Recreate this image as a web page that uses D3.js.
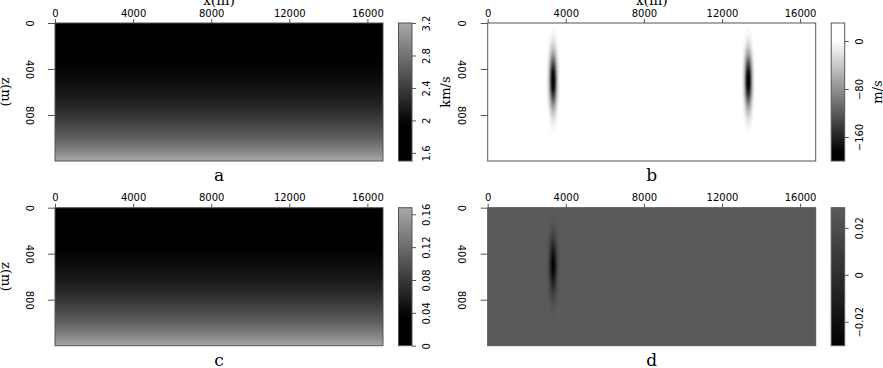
<!DOCTYPE html>
<html><head><meta charset="utf-8">
<script src="https://cdn.jsdelivr.net/npm/d3@7"></script>
<style>body{margin:0;background:#fff}svg{display:block}</style>
</head><body><svg id="chart" width="883" height="368"></svg>
<script>
// ---------------- data ----------------
const depths   = [0,100,200,300,400,500,600,700,800,900,1000,1100,1200];          // z (m)
const velocity = [1.50,1.62,1.74,1.86,1.98,2.04,2.11,2.21,2.34,2.49,2.66,2.90,3.20]; // panel a, km/s
const epsilon  = [0,0.008,0.017,0.027,0.038,0.045,0.052,0.063,0.077,0.093,0.111,0.136,0.166]; // panel c
const anomalyX = [3350, 13350];      // m
const anomalyZ = [500, 500];         // m
const anomalyAmpB = [-200, -200];    // m/s, panel b
const anomalyAmpD = [-0.03];         // panel d (only first anomaly)
const anomalySigmaX = 128;           // m
const anomalySigmaZ = 157;           // m
const profileR   = [0, 0.5, 1, 1.5, 2, 2.5, 3];          // radius in sigma units
const profileAmp = [1, 0.88, 0.61, 0.32, 0.14, 0.04, 0.01]; // relative amplitude
const xTicks = [0,4000,8000,12000,16000];
const zTicks = [0,400,800];
const xDomain = [0,16800];
const zDomain = [0,1200];
const cbDomainA = [1.5,3.2],   cbTicksA = [1.6,2,2.4,2.8,3.2], cbLabelsA = ["1.6","2","2.4","2.8","3.2"];
const cbDomainB = [-200,30],   cbTicksB = [0,-80,-160],       cbLabelsB = ["0","\u221280","\u2212160"];
const cbDomainC = [0,0.168],   cbTicksC = [0,0.04,0.08,0.12,0.16], cbLabelsC = ["0","0.04","0.08","0.12","0.16"];
const cbDomainD = [-0.0302,0.0286], cbTicksD = [0.02,0,-0.02], cbLabelsD = ["0.02","0","\u22120.02"];
const panelLabels = ["a","b","c","d"];

// ---------------- layout ----------------
const svg = d3.select("#chart");
const defs = svg.append("defs");
const colLeft = [55, 487.7], rowTop = [23, 207.7];
const W = 328, H = 138;
const CBOFF = 15.5, CBW = 13.5;
const tickFont = "'DejaVu Sans', sans-serif";
const labelFont = "'DejaVu Serif', serif";
const borderCol = "#555";

const colA = d3.scaleLinear().domain([1.95,3.2]).range(["#000","#a8a8a8"]).clamp(true);
const colB = d3.scaleLinear().domain([-185,0]).range(["#000","#fff"]).clamp(true);
const colC = d3.scaleLinear().domain([0.035,0.168]).range(["#000","#a8a8a8"]).clamp(true);
const colD = d3.scaleLinear().domain([-0.03,0]).range(["#000","#5a5a5a"]).clamp(true);
const colDbar = d3.scaleLinear().domain(cbDomainD).range(["#000","#5a5a5a"]);

const panels = [
  {id:"a", c:0, r:0, color:colA, cbColor:colA, cbDomain:cbDomainA, cbTicks:cbTicksA, cbLabels:cbLabelsA, profile:velocity, unit:"km/s", unitX:445, xlabel:true, zlabel:true},
  {id:"b", c:1, r:0, color:colB, cbColor:colB, cbDomain:cbDomainB, cbTicks:cbTicksB, cbLabels:cbLabelsB, anomalies:anomalyAmpB, bg:0, unit:"m/s", unitX:877, xlabel:true, zlabel:false},
  {id:"c", c:0, r:1, color:colC, cbColor:colC, cbDomain:cbDomainC, cbTicks:cbTicksC, cbLabels:cbLabelsC, profile:epsilon, xlabel:false, zlabel:true},
  {id:"d", c:1, r:1, color:colD, cbColor:colDbar, cbDomain:cbDomainD, cbTicks:cbTicksD, cbLabels:cbLabelsD, anomalies:anomalyAmpD, bg:0, xlabel:false, zlabel:false}
];

panels.forEach((p, i) => {
  const L = colLeft[p.c], T = rowTop[p.r];
  const x = d3.scaleLinear().domain(xDomain).range([L, L+W]);
  const z = d3.scaleLinear().domain(zDomain).range([T, T+H]);
  const g = svg.append("g");

  // image
  if (p.profile) {
    const gid = "grad_" + p.id;
    const lg = defs.append("linearGradient").attr("id", gid)
      .attr("gradientUnits","userSpaceOnUse")
      .attr("x1",0).attr("x2",0).attr("y1",z(zDomain[0])).attr("y2",z(zDomain[1]));
    depths.forEach((d,k) => lg.append("stop")
      .attr("offset", (z(d)-T)/H).attr("stop-color", p.color(p.profile[k])));
    g.append("rect").attr("x",x(xDomain[0])).attr("y",z(zDomain[0]))
      .attr("width",x(xDomain[1])-x(xDomain[0])).attr("height",z(zDomain[1])-z(zDomain[0]))
      .attr("fill","url(#"+gid+")");
  } else {
    g.append("rect").attr("x",x(xDomain[0])).attr("y",z(zDomain[0]))
      .attr("width",x(xDomain[1])-x(xDomain[0])).attr("height",z(zDomain[1])-z(zDomain[0]))
      .attr("fill", p.color(p.bg));
    p.anomalies.forEach((amp, k) => {
      const rid = "rad_" + p.id + k;
      const rg = defs.append("radialGradient").attr("id", rid);
      profileR.forEach((r, j) => rg.append("stop")
        .attr("offset", r/3).attr("stop-color", p.color(amp*profileAmp[j])));
      g.append("ellipse")
        .attr("cx", x(anomalyX[k])).attr("cy", z(anomalyZ[k]))
        .attr("rx", x(3*anomalySigmaX) - x(0)).attr("ry", z(3*anomalySigmaZ) - z(0))
        .attr("fill","url(#"+rid+")");
    });
  }
  // border
  g.append("rect").attr("x",L).attr("y",T).attr("width",W).attr("height",H)
    .attr("fill","none").attr("stroke",borderCol).attr("stroke-width",1);

  // top x axis
  const xa = g.append("g").attr("transform",`translate(0,${T})`)
    .call(d3.axisTop(x).tickValues(xTicks).tickSize(4).tickPadding(2.5).tickFormat(d3.format("d")));
  xa.select(".domain").remove();
  xa.selectAll("line").attr("stroke",borderCol);
  xa.selectAll("text").attr("font-family",tickFont).attr("font-size",10).attr("fill","#000");

  // left z axis
  const za = g.append("g").attr("transform",`translate(${L},0)`)
    .call(d3.axisLeft(z).tickValues(zTicks).tickSize(7).tickFormat(d3.format("d")));
  za.select(".domain").remove();
  za.selectAll("line").attr("stroke",borderCol);
  za.selectAll("text")
    .attr("x",null).attr("dy",null)
    .attr("text-anchor","middle").attr("dominant-baseline","central")
    .attr("transform", "translate(-26,0) rotate(90)")
    .attr("font-family",tickFont).attr("font-size",10).attr("fill","#000");

  // colorbar
  const cbx = L + W + CBOFF;
  const cy = d3.scaleLinear().domain(p.cbDomain).range([T+H, T]);
  const cid = "cb_" + p.id;
  const cg = defs.append("linearGradient").attr("id", cid)
    .attr("x1",0).attr("x2",0).attr("y1",1).attr("y2",0);
  d3.range(0, 1.0001, 0.02).forEach(t => {
    const v = p.cbDomain[0] + t*(p.cbDomain[1]-p.cbDomain[0]);
    cg.append("stop").attr("offset", t).attr("stop-color", p.cbColor(v));
  });
  g.append("rect").attr("x",cbx).attr("y",cy(p.cbDomain[1]))
    .attr("width",CBW).attr("height",cy(p.cbDomain[0])-cy(p.cbDomain[1]))
    .attr("fill","url(#"+cid+")").attr("stroke",borderCol).attr("stroke-width",1);
  const ca = g.append("g").attr("transform",`translate(${cbx+CBW},0)`)
    .call(d3.axisRight(cy).tickValues(p.cbTicks).tickSize(4).tickFormat((d,k)=>p.cbLabels[k]));
  ca.select(".domain").remove();
  ca.selectAll("line").attr("stroke",borderCol);
  ca.selectAll("text")
    .attr("x",null).attr("dy",null)
    .attr("text-anchor","middle").attr("dominant-baseline","central")
    .attr("transform","translate(14.5,0) rotate(-90)")
    .attr("font-family",tickFont).attr("font-size",10).attr("fill","#000");

  if (p.unit) {
    g.append("text").attr("transform",`translate(${p.unitX},${T+H/2}) rotate(-90)`)
      .attr("text-anchor","middle").attr("dominant-baseline","central")
      .attr("font-family",labelFont).attr("font-size",13).text(p.unit);
  }
  if (p.xlabel) {
    g.append("text").attr("x", L+W/2).attr("y", T-18)
      .attr("text-anchor","middle").attr("font-family",labelFont).attr("font-size",14).text("x(m)");
  }
  if (p.zlabel) {
    g.append("text").attr("transform",`translate(6,${T+H/2}) rotate(90)`)
      .attr("text-anchor","middle").attr("dominant-baseline","central")
      .attr("font-family",labelFont).attr("font-size",13).text("z(m)");
  }
  g.append("text").attr("x", L+W/2).attr("y", T+H+20)
    .attr("text-anchor","middle").attr("font-family",labelFont).attr("font-size",17)
    .text(panelLabels[i]);
});
</script></body></html>
